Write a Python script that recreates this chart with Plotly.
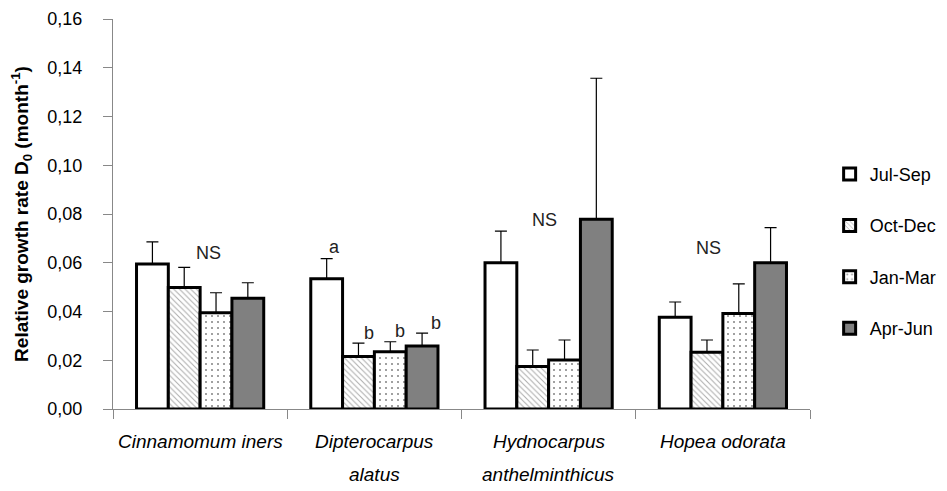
import plotly.graph_objects as go

species = ["Cinnamomum iners", "Dipterocarpus alatus", "Hydnocarpus anthelminthicus", "Hopea odorata"]
label_line1 = ["Cinnamomum iners", "Dipterocarpus", "Hydnocarpus", "Hopea odorata"]
label_line2 = ["", "alatus", "anthelminthicus", ""]
seasons = ["Jul-Sep", "Oct-Dec", "Jan-Mar", "Apr-Jun"]

jul_sep = [0.0595, 0.0534, 0.0600, 0.0376]
oct_dec = [0.0498, 0.0215, 0.0174, 0.0233]
jan_mar = [0.0395, 0.0235, 0.0201, 0.0392]
apr_jun = [0.0454, 0.0258, 0.0778, 0.0600]

err_jul_sep = [0.0091, 0.0083, 0.0130, 0.0063]
err_oct_dec = [0.0083, 0.0055, 0.0068, 0.0050]
err_jan_mar = [0.0082, 0.0041, 0.0082, 0.0121]
err_apr_jun = [0.0064, 0.0053, 0.0579, 0.0144]

# significance letters: (text, x position in category units, y value)
sig_text = ["NS", "a", "b", "b", "b", "NS", "NS"]
sig_x = [0.05, 0.773, 0.971, 1.145, 1.355, 1.977, 2.919]
sig_y = [0.064, 0.0665, 0.0312, 0.0320, 0.0353, 0.0775, 0.066]

yticks = [0.00, 0.02, 0.04, 0.06, 0.08, 0.10, 0.12, 0.14, 0.16]

FONT = "Liberation Sans, Arial, sans-serif"
xpos = list(range(len(species)))

values = [jul_sep, oct_dec, jan_mar, apr_jun]
errors = [err_jul_sep, err_oct_dec, err_jan_mar, err_apr_jun]
colors = ["white", "white", "white", "#808080"]
patterns = [
    dict(shape=""),
    dict(shape="\\", fgcolor="#555555", bgcolor="white", size=4, solidity=0.25),
    dict(shape=".", fgcolor="#111111", bgcolor="white", size=6, solidity=0.1),
    dict(shape=""),
]

fig = go.Figure()
for name, v, e, c, p in zip(seasons, values, errors, colors, patterns):
    fig.add_trace(go.Bar(
        x=xpos, y=v, name=name, legendgroup=name,
        marker=dict(color=c, line=dict(color="black", width=3), pattern=p),
        error_y=dict(type="data", symmetric=False, array=e,
                     arrayminus=[0] * len(e), color="black", thickness=1.2, width=6),
    ))

# invisible trace on a second x axis to draw category boundary ticks
fig.add_trace(go.Scatter(x=[-0.5, 3.5], y=[0, 0], xaxis="x2", mode="lines",
                         line=dict(width=0), showlegend=False, hoverinfo="skip"))

annotations = []
for t, x, y in zip(sig_text, sig_x, sig_y):
    annotations.append(dict(text=t, x=x, y=y, xref="x", yref="y", showarrow=False,
                            font=dict(family=FONT, size=18, color="#222222")))
for i, (l1, l2) in enumerate(zip(label_line1, label_line2)):
    annotations.append(dict(text="<i>" + l1 + "</i>", x=i, y=0, xref="x", yref="paper",
                            yshift=-32, showarrow=False, yanchor="middle",
                            font=dict(family=FONT, size=19, color="black")))
    if l2:
        annotations.append(dict(text="<i>" + l2 + "</i>", x=i, y=0, xref="x", yref="paper",
                                yshift=-65, showarrow=False, yanchor="middle",
                                font=dict(family=FONT, size=19, color="black")))

# the page body adds an 8px offset; figure sized to fit the 947x491 window
fig.update_layout(
    width=939, height=483,
    margin=dict(l=105, r=137, t=11, b=82, autoexpand=False),
    paper_bgcolor="white", plot_bgcolor="white",
    separators=", ",
    barmode="group", bargap=0.27, bargroupgap=0,
    font=dict(family=FONT, size=17, color="black"),
    xaxis=dict(range=[-0.5, 3.5], tickvals=xpos, showticklabels=False, ticks="",
               showline=True, linecolor="#888888", linewidth=1, showgrid=False,
               zeroline=False, fixedrange=True, automargin=False),
    xaxis2=dict(range=[-0.5, 3.5], overlaying="x", side="bottom",
                tickvals=[-0.5, 0.5, 1.5, 2.5, 3.5], showticklabels=False,
                ticks="outside", ticklen=9, tickcolor="#888888", showline=False,
                showgrid=False, zeroline=False, automargin=False),
    yaxis=dict(range=[0, 0.16], tickvals=yticks, tickformat=".2f",
               ticks="outside", ticklen=9, tickcolor="#888888",
               showline=True, linecolor="#888888", linewidth=1, showgrid=False,
               zeroline=False, tickfont=dict(size=18), automargin=False,
               ticklabelstandoff=17,
               title=dict(text="<b>Relative growth rate D<sub>0</sub> (month<sup>-1</sup>)</b>",
                          font=dict(size=19), standoff=18)),
    legend=dict(xref="container", yref="container", x=0.875, y=0.694,
                xanchor="left", yanchor="top",
                traceorder="grouped", tracegroupgap=25,
                font=dict(size=18), bgcolor="rgba(0,0,0,0)"),
    annotations=annotations,
)

fig.write_html("out.html")
